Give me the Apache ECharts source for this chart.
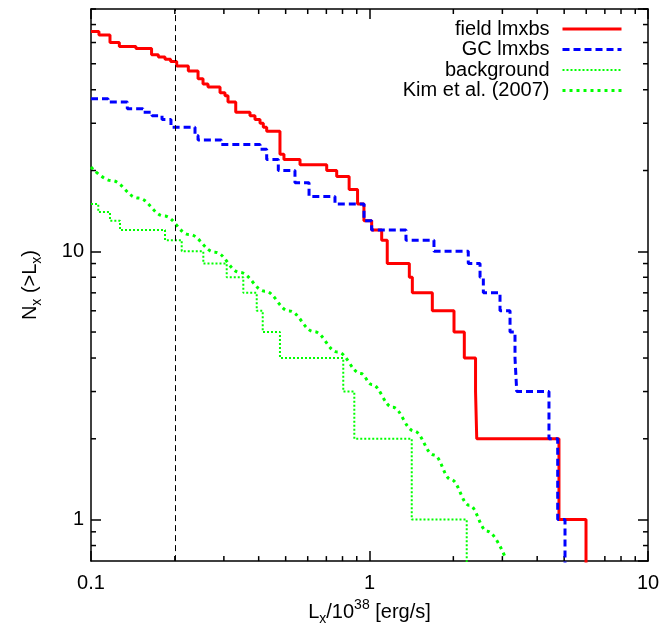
<!DOCTYPE html>
<html><head><meta charset="utf-8">
<script src="https://cdn.jsdelivr.net/npm/echarts@6/dist/echarts.min.js"></script>
<style>html,body{margin:0;padding:0;background:#fff}#c{width:663px;height:631px}</style>
</head><body><div id="c"></div>
<script>
// ---- data ----
const fieldL = [0.1, 0.1068, 0.117, 0.1264, 0.145, 0.165, 0.1745, 0.1844, 0.1932, 0.2031, 0.2236, 0.2423, 0.2525, 0.2631, 0.2906, 0.3028, 0.3104, 0.3309, 0.3723, 0.388, 0.4045, 0.4156, 0.4274, 0.477, 0.493, 0.563, 0.702, 0.7625, 0.845, 0.906, 0.955, 1.018, 1.106, 1.158, 1.39, 1.425, 1.681, 2.011, 2.19, 2.403, 2.427, 4.79, 5.99];
const fieldN = [66, 64, 60, 58, 57, 54, 53, 52, 51, 49, 47, 44, 42, 41, 39, 38, 36, 33, 32, 31, 30, 29, 28, 23, 22, 21, 20, 19, 17, 15, 13, 12, 11, 9, 8, 7, 6, 5, 4, 3, 2, 1, 0.5];

const gcL = [0.1, 0.1151, 0.135, 0.1537, 0.1656, 0.1799, 0.1937, 0.2363, 0.2423, 0.2937, 0.4045, 0.4274, 0.4705, 0.540, 0.6066, 0.7517, 0.9556, 1.018, 1.352, 1.704, 2.263, 2.494, 2.563, 2.942, 3.196, 3.33, 3.378, 4.41, 4.74, 5.035];
const gcN = [37, 36, 34, 33, 32, 31, 29, 27, 26, 25, 24, 22, 20, 18, 16, 15, 13, 12, 11, 10, 9, 8, 7, 6, 5, 4, 3, 2, 1, 0.5];

const bgL = [0.1, 0.1062, 0.117, 0.1271, 0.1844, 0.2117, 0.2531, 0.3071, 0.3523, 0.3936, 0.4136, 0.477, 0.805, 0.882, 1.418, 2.234];
const bgN = [15, 14, 13, 12, 11, 10, 9, 8, 7, 6, 5, 4, 3, 2, 1, 0.5];

const kimL = [0.1, 0.1187, 0.1478, 0.1829, 0.2254, 0.2788, 0.3428, 0.4216, 0.5153, 0.6319, 0.7688, 0.9322, 1.018, 1.211, 1.445, 1.704, 1.962, 2.283, 2.649, 3.066];
const kimN = [20.6, 18.33, 15.79, 13.54, 11.55, 9.92, 8.34, 7.10, 5.99, 5.02, 4.21, 3.50, 3.19, 2.62, 2.14, 1.74, 1.41, 1.13, 0.905, 0.726];

const seriesNames = ['field lmxbs', 'GC lmxbs', 'background', 'Kim et al. (2007)'];
const xRange = [0.1, 10];
const yRange = [0.7, 80];
const refX = 0.2;
const xMinorTicks = [0.2, 0.3, 0.4, 0.5, 0.6, 0.7, 0.8, 0.9, 2, 3, 4, 5, 6, 7, 8, 9];
const yMinorTicks = [0.8, 0.9, 2, 3, 4, 5, 6, 7, 8, 9, 20, 30, 40, 50, 60, 70, 80];

// ---- chart ----
const FONT = 'Liberation Sans, Arial, Helvetica, sans-serif';
const zip = (a, b) => a.map((v, i) => [v, b[i]]);
const fmt = v => {
  const l = Math.log10(v);
  return Math.abs(l - Math.round(l)) < 1e-6 ? String(Number(Number(v).toPrecision(6))) : '';
};
const axisLineStyle = { color: '#000', width: 1.5 };
const baseAxis = {
  type: 'log', logBase: 10,
  axisLine: { show: true, onZero: false, lineStyle: axisLineStyle },
  axisTick: { show: true, inside: true, length: 10, lineStyle: axisLineStyle },
  splitLine: { show: false },
  minorTick: { show: false },
  minorSplitLine: { show: false }
};
const labelStyle = { fontSize: 20, fontFamily: FONT, color: '#000' };
const rich = {
  a: { fontSize: 20, fontFamily: FONT, color: '#000', lineHeight: 28 },
  b: { fontSize: 14, fontFamily: FONT, color: '#000', lineHeight: 14, verticalAlign: 'bottom' },
  c: { fontSize: 14, fontFamily: FONT, color: '#000', lineHeight: 14, verticalAlign: 'top' }
};

const tickData = [];
xMinorTicks.forEach(v => { tickData.push([v, 1, 0]); tickData.push([v, 1, 1]); });
yMinorTicks.forEach(v => { tickData.push([1, v, 2]); tickData.push([1, v, 3]); });

const chart = echarts.init(document.getElementById('c'), null, { renderer: 'canvas' });
chart.setOption({
  animation: false,
  backgroundColor: '#fff',
  grid: { left: 91, right: 15, top: 9, bottom: 65 },
  xAxis: [
    Object.assign({}, baseAxis, {
      min: xRange[0], max: xRange[1], position: 'bottom',
      axisLabel: Object.assign({ formatter: fmt, margin: 12 }, labelStyle),
      name: '{a|L}{b|x}{a|/10}{c|38}{a| [erg/s]}',
      nameLocation: 'middle', nameGap: 34,
      nameTextStyle: { rich: rich }
    }),
    Object.assign({}, baseAxis, {
      min: xRange[0], max: xRange[1], position: 'top',
      axisLabel: { show: false }
    })
  ],
  yAxis: [
    Object.assign({}, baseAxis, {
      min: yRange[0], max: yRange[1], position: 'left',
      axisLabel: Object.assign({ formatter: fmt, margin: 7, showMinLabel: false, showMaxLabel: false }, labelStyle),
      name: '{a|N}{b|x}{a| (>L}{b|x}{a|)}',
      nameLocation: 'middle', nameGap: 47, nameRotate: 90,
      nameTextStyle: { rich: rich }
    }),
    Object.assign({}, baseAxis, {
      min: yRange[0], max: yRange[1], position: 'right',
      axisLabel: { show: false }
    })
  ],
  legend: {
    orient: 'vertical', right: 40, top: 19, align: 'right', padding: 0,
    itemWidth: 59, itemHeight: 14, itemGap: 0.5,
    selectedMode: false,
    itemStyle: { opacity: 0 },
    lineStyle: { width: 'inherit' },
    textStyle: { fontSize: 20, fontFamily: FONT, color: '#000', lineHeight: 20, padding: [0, 8, 0, 0] },
    data: seriesNames
  },
  series: [
    {
      name: seriesNames[0], type: 'line', step: 'end', symbol: 'none',
      data: zip(fieldL, fieldN),
      lineStyle: { color: '#ff0000', width: 3 }, itemStyle: { color: '#ff0000' },
      markLine: {
        silent: true, symbol: 'none', animation: false,
        label: { show: false },
        lineStyle: { color: '#000', width: 1, type: [6, 4] },
        data: [{ xAxis: refX }]
      }
    },
    {
      name: seriesNames[1], type: 'line', step: 'end', symbol: 'none',
      data: zip(gcL, gcN),
      lineStyle: { color: '#0000ff', width: 3, type: [7, 4] }, itemStyle: { color: '#0000ff' }
    },
    {
      name: seriesNames[2], type: 'line', step: 'end', symbol: 'none',
      data: zip(bgL, bgN),
      lineStyle: { color: '#00ff00', width: 2, type: [2, 2] }, itemStyle: { color: '#00ff00' }
    },
    {
      name: seriesNames[3], type: 'line', symbol: 'none', smooth: 0.4, smoothMonotone: 'x',
      data: zip(kimL, kimN),
      lineStyle: { color: '#00ff00', width: 3, type: [3, 4] }, itemStyle: { color: '#00ff00' }
    },
    {
      name: 'minorTicks', type: 'custom', silent: true, clip: false,
      encode: { x: 0, y: 1 },
      data: tickData,
      renderItem: function (params, api) {
        const cs = params.coordSys;
        const side = api.value(2);
        const p = api.coord([api.value(0), api.value(1)]);
        const L = 5;
        let x1, y1, x2, y2;
        if (side === 0) { x1 = x2 = p[0]; y1 = cs.y + cs.height; y2 = y1 - L; }
        else if (side === 1) { x1 = x2 = p[0]; y1 = cs.y; y2 = cs.y + L; }
        else if (side === 2) { y1 = y2 = p[1]; x1 = cs.x; x2 = cs.x + L; }
        else { y1 = y2 = p[1]; x1 = cs.x + cs.width; x2 = x1 - L; }
        return { type: 'line', shape: { x1: x1, y1: y1, x2: x2, y2: y2 }, style: { stroke: '#000', lineWidth: 1.5 } };
      }
    }
  ]
});
</script>
</body></html>
